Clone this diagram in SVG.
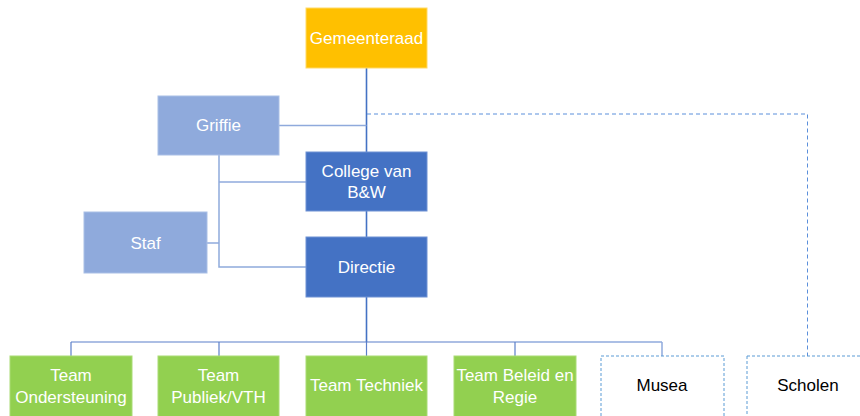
<svg xmlns="http://www.w3.org/2000/svg" width="860" height="416" viewBox="0 0 860 416">
  <style>
    .lbl { font-family: "Liberation Sans", Arial, sans-serif; font-size: 17px; text-anchor: middle; fill: #ffffff; }
    .dark { fill: #000000; }
    .raad { fill: #FFC000; stroke: #FFD966; stroke-width: 1; }
    .light { fill: #8FAADC; stroke: #A9BFE6; stroke-width: 1; }
    .mid { fill: #4472C4; stroke: #6F92D4; stroke-width: 1; }
    .team { fill: #92D050; stroke: #A9DC74; stroke-width: 1; }
    .ext { fill: #ffffff; stroke: #5B9BD5; stroke-width: 1; stroke-dasharray: 3 2; }
    .line-main { stroke: #4472C4; stroke-width: 1.6; fill: none; }
    .line-side { stroke: #8FAADC; stroke-width: 1.5; fill: none; }
    .line-team { stroke: #5B7FC9; stroke-width: 1.2; fill: none; }
    .line-dash { stroke: #5B8FDB; stroke-width: 1; fill: none; stroke-dasharray: 4 3; }
  </style>
  <rect width="860" height="416" fill="#ffffff"/>

  <g id="connectors">
    <!-- main hierarchy spine -->
    <line class="line-main" x1="366.5" y1="68" x2="366.5" y2="152"/>
    <line class="line-main" x1="366.5" y1="211" x2="366.5" y2="237"/>
    <line class="line-main" x1="366.5" y1="297" x2="366.5" y2="342"/>
    <!-- griffie to spine -->
    <line class="line-side" x1="279" y1="125.5" x2="366.5" y2="125.5"/>
    <!-- griffie / staf support branch -->
    <polyline class="line-side" points="219,155 219,267 306,267"/>
    <line class="line-side" x1="219" y1="182" x2="306" y2="182"/>
    <line class="line-side" x1="207" y1="243" x2="219" y2="243"/>
    <!-- team bus -->
    <line class="line-team" x1="71" y1="342" x2="515" y2="342"/>
    <line class="line-side" x1="515" y1="342" x2="662" y2="342"/>
    <line class="line-team" x1="71" y1="342" x2="71" y2="356"/>
    <line class="line-team" x1="219" y1="342" x2="219" y2="356"/>
    <line class="line-team" x1="366.5" y1="342" x2="366.5" y2="356"/>
    <line class="line-team" x1="515" y1="342" x2="515" y2="356"/>
    <line class="line-side" x1="662" y1="342" x2="662" y2="356"/>
    <!-- dashed link to schools -->
    <polyline class="line-dash" points="367,114 807.5,114 807.5,356"/>
  </g>

  <g id="gemeenteraad">
    <rect class="raad" x="306" y="8" width="121" height="60"/>
    <text class="lbl" x="366.5" y="44">Gemeenteraad</text>
  </g>
  <g id="griffie">
    <rect class="light" x="158" y="96" width="121" height="59"/>
    <text class="lbl" x="218.5" y="131">Griffie</text>
  </g>
  <g id="college">
    <rect class="mid" x="306" y="152" width="121" height="59"/>
    <text class="lbl" x="366.5" y="177">College van</text>
    <text class="lbl" x="366.5" y="198">B&amp;W</text>
  </g>
  <g id="staf">
    <rect class="light" x="84" y="212" width="123" height="61"/>
    <text class="lbl" x="145.5" y="249">Staf</text>
  </g>
  <g id="directie">
    <rect class="mid" x="306" y="237" width="121" height="60"/>
    <text class="lbl" x="366.5" y="273">Directie</text>
  </g>

  <g id="team-ondersteuning">
    <rect class="team" x="10" y="356" width="122" height="62"/>
    <text class="lbl" x="71" y="381">Team</text>
    <text class="lbl" x="71" y="403">Ondersteuning</text>
  </g>
  <g id="team-publiek">
    <rect class="team" x="158" y="356" width="121" height="62"/>
    <text class="lbl" x="218.5" y="381">Team</text>
    <text class="lbl" x="218.5" y="403">Publiek/VTH</text>
  </g>
  <g id="team-techniek">
    <rect class="team" x="306" y="356" width="121" height="62"/>
    <text class="lbl" x="366.5" y="391">Team Techniek</text>
  </g>
  <g id="team-beleid">
    <rect class="team" x="454" y="356" width="122" height="62"/>
    <text class="lbl" x="515" y="381">Team Beleid en</text>
    <text class="lbl" x="515" y="403">Regie</text>
  </g>
  <g id="musea">
    <rect class="ext" x="601" y="356" width="123" height="62"/>
    <text class="lbl dark" x="662" y="391">Musea</text>
  </g>
  <g id="scholen">
    <rect class="ext" x="747" y="356" width="122" height="62"/>
    <text class="lbl dark" x="808" y="391">Scholen</text>
  </g>
</svg>
